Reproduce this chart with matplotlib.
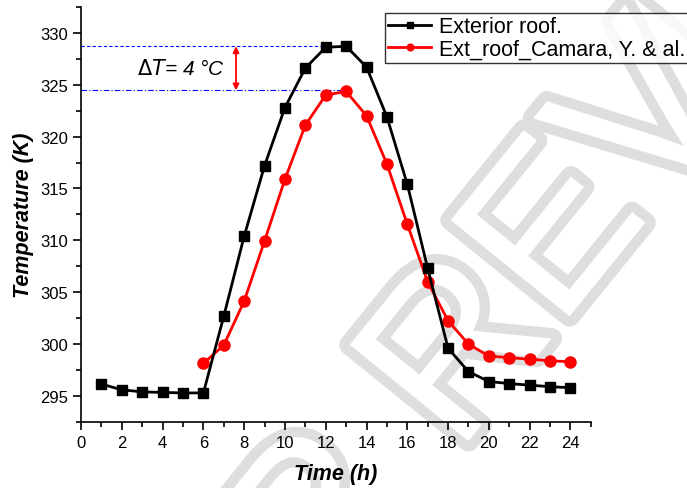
import matplotlib
matplotlib.use('Agg')
import matplotlib.pyplot as plt
import matplotlib.patheffects as pe
from matplotlib.ticker import MultipleLocator

plt.rcParams['font.family'] = ['Liberation Sans', 'DejaVu Sans']

# data
hours_ext = list(range(1, 25))
temp_ext = [296.15, 295.6, 295.4, 295.35, 295.3, 295.3, 302.7, 310.4, 317.2, 322.8,
            326.6, 328.6, 328.7, 326.7, 321.9, 315.4, 307.3, 299.6, 297.35, 296.4,
            296.2, 296.05, 295.9, 295.8]
hours_cam = list(range(6, 25))
temp_cam = [298.15, 299.9, 304.15, 309.95, 315.9, 321.1, 324.0, 324.35, 322.0, 317.35,
            311.55, 306.0, 302.25, 300.0, 298.85, 298.7, 298.55, 298.4, 298.3]
peak_ext = 328.7
peak_cam = 324.45
peak_hour = 13

fig = plt.figure(figsize=(6.87, 4.89), dpi=100)
ax = fig.add_axes([0.118, 0.135, 0.742, 0.849])
ax.patch.set_alpha(0)

# review watermark
fig.text(0.64, 0.21, 'AFTER REVIEW', fontsize=160, rotation=51, ha='center', va='center',
         color='white', zorder=-5,
         path_effects=[pe.Stroke(linewidth=15, foreground='#dedede'), pe.Normal()])

ax.plot(hours_ext, temp_ext, color='black', lw=2, marker='s', ms=7, label='Exterior roof.', zorder=4)
ax.plot(hours_cam, temp_cam, color='red', lw=2, marker='o', ms=8, label='Ext_roof_Camara, Y. & al.', zorder=3)

ax.plot([0, peak_hour], [peak_ext, peak_ext], color='blue', lw=0.8, ls=(0, (3, 2)), zorder=2)
ax.plot([0, peak_hour], [peak_cam, peak_cam], color='blue', lw=0.8, ls=(0, (5, 2, 1, 2)), zorder=2)
ax.annotate('', xy=(7.6, peak_ext), xytext=(7.6, peak_cam),
            arrowprops=dict(arrowstyle='<|-|>', color='red', lw=1.3, mutation_scale=9, shrinkA=0, shrinkB=0))
ax.text(4.9, 326.6, r'$\Delta T$= 4 °C', fontsize=15, style='italic', ha='center', va='center')

ax.set_xlim(0, 25)
ax.set_ylim(292.5, 332.5)
ax.xaxis.set_minor_locator(MultipleLocator(1))
ax.yaxis.set_minor_locator(MultipleLocator(2.5))
ax.set_xticks(range(0, 25, 2))
ax.set_yticks(range(295, 331, 5))
ax.tick_params(which='major', length=6, width=1.2, labelsize=12)
ax.tick_params(which='minor', length=3.5, width=1.2)
for s in ['top', 'right']:
    ax.spines[s].set_visible(False)
for s in ['left', 'bottom']:
    ax.spines[s].set_linewidth(1.2)

ax.set_xlabel('Time (h)', fontsize=15.5, fontweight='bold', style='italic', labelpad=9)
ax.set_ylabel('Temperature (K)', fontsize=15.5, fontweight='bold', style='italic', labelpad=4)

leg = fig.legend(loc='upper left', bbox_to_anchor=(385 / 687, 1 - 14 / 489), fontsize=15.5,
                 frameon=True, fancybox=False, edgecolor='black', handlelength=2.0,
                 borderpad=0.15, labelspacing=0.05, handletextpad=0.35, borderaxespad=0,
                 markerscale=0.6)
leg.get_frame().set_linewidth(1)

fig.savefig('out.png', dpi=100)
